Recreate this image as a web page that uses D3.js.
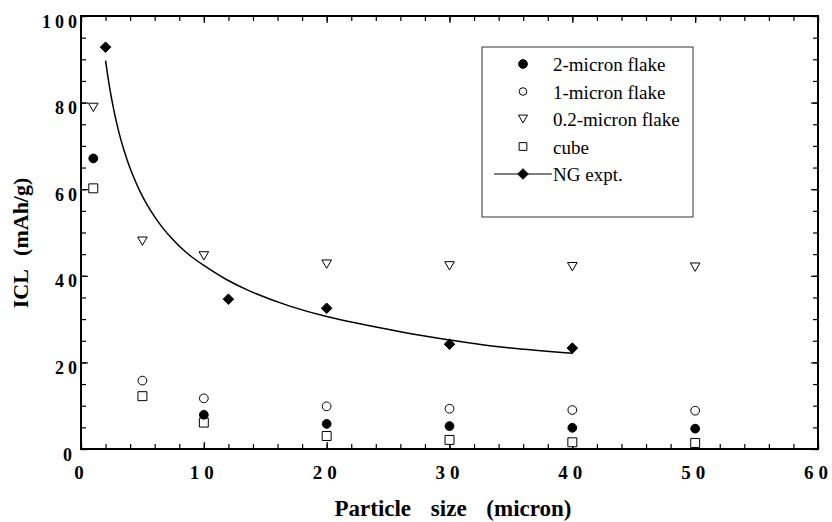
<!DOCTYPE html>
<html>
<head>
<meta charset="utf-8">
<script src="https://cdn.jsdelivr.net/npm/d3@7"></script>
<style>
  body { margin: 0; background: #fff; }
  text { font-family: "Liberation Serif", "Times New Roman", serif; }
</style>
</head>
<body>
<div id="chart"></div>
<script>
// tick values
var xTicks = [0, 10, 20, 30, 40, 50, 60];
var yTicks = [0, 20, 40, 60, 80, 100];

// 2-micron flake
var sizes2 = [1, 10, 20, 30, 40, 50];
var icl2 = [67.1, 7.9, 5.8, 5.3, 4.9, 4.7];
// 1-micron flake
var sizes1 = [5, 10, 20, 30, 40, 50];
var icl1 = [15.8, 11.7, 9.85, 9.3, 9.0, 8.85];
// 0.2-micron flake
var sizes02 = [1, 5, 10, 20, 30, 40, 50];
var icl02 = [78.9, 48.0, 44.6, 42.7, 42.3, 42.1, 42.0];
// cube
var sizesCube = [1, 5, 10, 20, 30, 40, 50];
var iclCube = [60.2, 12.2, 6.1, 3.0, 2.1, 1.55, 1.4];
// NG expt. points
var sizesNG = [2, 12, 20, 30, 40];
var iclNG = [92.8, 34.6, 32.5, 24.2, 23.3];
// NG fitted curve
var fitX = [2.0, 2.3, 2.6, 2.9, 3.2, 3.5, 3.9, 4.3, 4.8, 5.4, 6.0, 6.7, 7.4, 8.1, 9.0, 10, 11.8, 13.8, 17, 20, 26, 30, 34, 40];
var fitY = [89.7, 84.0, 79.3, 75.3, 71.9, 69.0, 65.6, 62.7, 59.5, 56.3, 53.6, 50.9, 48.6, 46.6, 44.4, 42.4, 39.2, 36.4, 33.0, 30.6, 27.1, 25.2, 23.6, 22.1];

var legendNames = ["2-micron flake", "1-micron flake", "0.2-micron flake", "cube", "NG expt."];

var margin = {top: 16, right: 14, bottom: 73, left: 81},
    width = 832 - margin.left - margin.right,
    height = 522 - margin.top - margin.bottom;

var svg = d3.select("#chart")
    .append("svg")
    .attr("width", 832)
    .attr("height", 522)
    .append("g")
    .attr("transform", "translate(" + margin.left + "," + margin.top + ")");

var x = d3.scaleLinear().domain([0, 60]).range([0, width]);
var y = d3.scaleLinear().domain([0, 100]).range([height, 0]);

// down-pointing triangle, centred on its box
var triDown = {
  draw: function(ctx, size) {
    var w = Math.sqrt(size * 4 / Math.sqrt(3));
    var h = w * Math.sqrt(3) / 2;
    ctx.moveTo(-w / 2, -h / 2);
    ctx.lineTo(w / 2, -h / 2);
    ctx.lineTo(0, h / 2);
    ctx.closePath();
  }
};
// square turned 45 degrees
var diamond = {
  draw: function(ctx, size) {
    var r = Math.sqrt(size / 2);
    ctx.moveTo(0, -r);
    ctx.lineTo(r, 0);
    ctx.lineTo(0, r);
    ctx.lineTo(-r, 0);
    ctx.closePath();
  }
};

// minor ticks
function minorAxis(axis, count) {
  return axis.ticks(count).tickSize(-5).tickFormat("");
}
svg.append("g").attr("transform", "translate(0," + height + ")")
  .call(minorAxis(d3.axisBottom(x), 30));
svg.append("g").call(minorAxis(d3.axisTop(x), 30));
svg.append("g").call(minorAxis(d3.axisLeft(y), 20));
svg.append("g").attr("transform", "translate(" + width + ",0)")
  .call(minorAxis(d3.axisRight(y), 20));

// major ticks
var xAxis = svg.append("g").attr("class", "xaxis")
  .attr("transform", "translate(0," + height + ")")
  .call(d3.axisBottom(x).tickValues(xTicks).tickSize(-7).tickFormat(d3.format("d")));
svg.append("g").call(d3.axisTop(x).tickValues(xTicks).tickSize(-7).tickFormat(""));
var yAxis = svg.append("g").attr("class", "yaxis")
  .call(d3.axisLeft(y).tickValues(yTicks).tickSize(-7).tickFormat(d3.format("d")));
svg.append("g").attr("transform", "translate(" + width + ",0)")
  .call(d3.axisRight(y).tickValues(yTicks).tickSize(-7).tickFormat(""));

svg.selectAll(".domain").remove();
svg.selectAll(".tick line").attr("stroke", "#000").attr("stroke-width", 1.2);

xAxis.selectAll("text")
  .attr("y", 30).attr("dy", null)
  .attr("font-family", "Liberation Serif").attr("font-weight", "bold")
  .attr("font-size", 19).attr("letter-spacing", 5).attr("fill", "#000");
yAxis.selectAll("text")
  .attr("x", 0).attr("y", 11).attr("dy", null)
  .attr("dx", function(d) { return d === 0 ? -5 : 0; })
  .attr("font-family", "Liberation Serif").attr("font-weight", "bold")
  .attr("font-size", 18).attr("letter-spacing", 4).attr("fill", "#000");

// frame
svg.append("rect")
  .attr("width", width).attr("height", height)
  .attr("fill", "none").attr("stroke", "#000").attr("stroke-width", 2);

// axis titles
svg.append("text")
  .attr("x", 372).attr("y", 500)
  .attr("text-anchor", "middle")
  .attr("font-weight", "bold").attr("font-size", 23).attr("word-spacing", 14)
  .text("Particle size (micron)");

svg.append("text")
  .attr("transform", "rotate(-90)")
  .attr("x", -227).attr("y", -53)
  .attr("text-anchor", "middle")
  .attr("font-weight", "bold").attr("font-size", 22).attr("word-spacing", 9)
  .text("ICL (mAh/g)");

// NG curve
var line = d3.line()
  .x(function(d) { return x(d[0]); })
  .y(function(d) { return y(d[1]); })
  .curve(d3.curveCatmullRom.alpha(0.5));
svg.append("path")
  .datum(d3.zip(fitX, fitY))
  .attr("d", line)
  .attr("fill", "none").attr("stroke", "#000").attr("stroke-width", 1.5);

function drawPoints(xs, ys, type, size, fill) {
  svg.append("g").selectAll("path")
    .data(d3.zip(xs, ys))
    .enter()
    .append("path")
    .attr("transform", function(d) { return "translate(" + x(d[0]) + "," + y(d[1]) + ")"; })
    .attr("d", d3.symbol().type(type).size(size))
    .attr("fill", fill)
    .attr("stroke", "#000")
    .attr("stroke-width", 1);
}

drawPoints(sizes02, icl02, triDown, 40, "#fff");
drawPoints(sizesCube, iclCube, d3.symbolSquare, 80, "#fff");
drawPoints(sizes1, icl1, d3.symbolCircle, 60, "#fff");
drawPoints(sizes2, icl2, d3.symbolCircle, 60, "#000");
drawPoints(sizesNG, iclNG, diamond, 56, "#000");

// legend
var legend = svg.append("g").attr("transform", "translate(401,31)");
legend.append("rect")
  .attr("width", 211).attr("height", 170)
  .attr("fill", "#fff").attr("stroke", "#333").attr("stroke-width", 1);

var legendTypes = [d3.symbolCircle, d3.symbolCircle, triDown, d3.symbolSquare, diamond];
var legendFills = ["#000", "#fff", "#fff", "#fff", "#000"];
var legendSizes = [60, 45, 36, 60, 56];

var rows = legend.selectAll("g.row")
  .data(legendNames)
  .enter()
  .append("g")
  .attr("class", "row")
  .attr("transform", function(d, i) { return "translate(0," + (17 + i * 27.5) + ")"; });

rows.filter(function(d, i) { return i === 4; })
  .append("line")
  .attr("x1", 12).attr("x2", 70)
  .attr("stroke", "#000").attr("stroke-width", 1.2);

rows.append("path")
  .attr("transform", "translate(41,0)")
  .attr("d", function(d, i) { return d3.symbol().type(legendTypes[i]).size(legendSizes[i])(); })
  .attr("fill", function(d, i) { return legendFills[i]; })
  .attr("stroke", "#000").attr("stroke-width", 1);

rows.append("text")
  .attr("x", 71).attr("y", 7)
  .attr("font-size", 19)
  .text(function(d) { return d; });
</script>
</body>
</html>
